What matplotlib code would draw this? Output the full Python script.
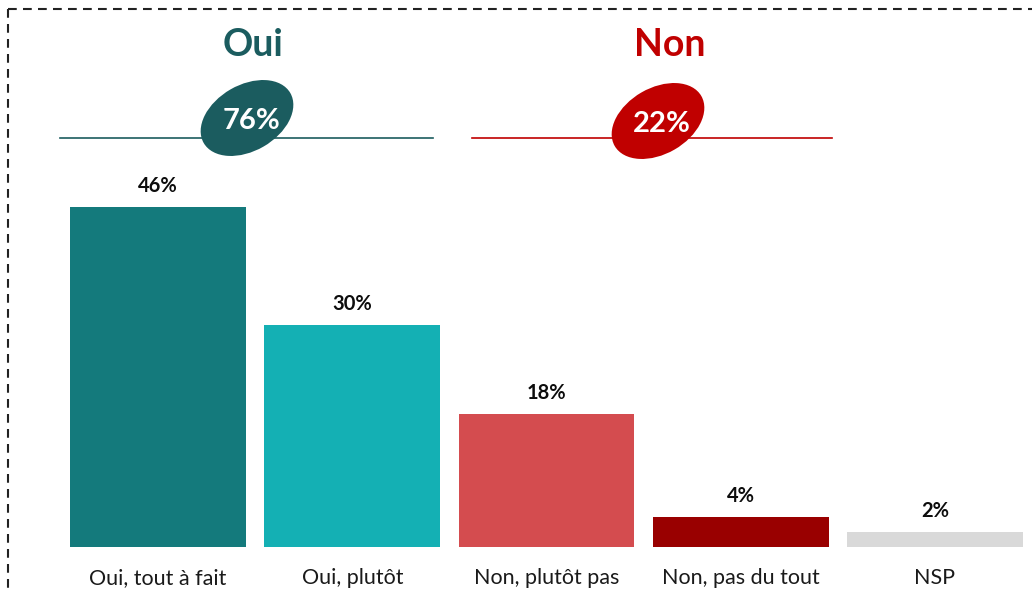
import matplotlib
matplotlib.use("Agg")
import matplotlib.pyplot as plt
from matplotlib.patches import Ellipse
from matplotlib.lines import Line2D
from matplotlib.transforms import Affine2D

categories = ["Oui, tout à fait", "Oui, plutôt", "Non, plutôt pas", "Non, pas du tout", "NSP"]
values = [46, 30, 18, 4, 2]
value_labels = ["46%", "30%", "18%", "4%", "2%"]
bar_colors = ["#147a7c", "#14b0b4", "#d44c4f", "#990000", "#d9d9d9"]

group_names = ["Oui", "Non"]
group_totals = ["76%", "22%"]
group_colors = ["#1b5c5f", "#c00000"]

W, H = 1032, 592
plt.rcParams['font.family'] = ['Lato', 'DejaVu Sans']
fig = plt.figure(figsize=(W / 100, H / 100), dpi=100)

def fx(px):
    return px / W

def fy(py):
    return 1 - py / H

# main axes: baseline at y=547px, bars spaced from x=61 to 1032
ax = fig.add_axes([fx(61), fy(547), fx(1032) - fx(61), fy(9) - fy(547)])
x = list(range(len(categories)))
ax.bar(x, values, width=0.905, color=bar_colors)
ax.set_xlim(-0.5, len(categories) - 0.5)
ax.set_ylim(0, 538 / 7.39)
for spine in ax.spines.values():
    spine.set_visible(False)
ax.set_yticks([])
ax.set_xticks(x)
ax.set_xticklabels(categories, fontsize=15.5, color="#1a1a1a")
ax.tick_params(axis="x", length=0, pad=15)

for xi, v, lab in zip(x, values, value_labels):
    ax.annotate(lab, (xi, v), xytext=(0, 8), textcoords="offset points",
                ha="center", va="bottom", fontsize=14.5, fontweight="bold", color="#0d0d0d")

# group headers (positions in figure pixels)
title_x = [253, 670]
line_spans = [(60, 433), (472, 832)]
ell_centers = [(247, 118), (658, 121)]
pix = Affine2D().scale(1 / W, 1 / H) + fig.transFigure
for name, tot, col, tx, (l0, l1), (ex, ey) in zip(group_names, group_totals, group_colors,
                                                   title_x, line_spans, ell_centers):
    fig.text(fx(tx), fy(45), name, ha="center", va="center", fontsize=27,
             fontweight="bold", color=col)
    fig.add_artist(Line2D([fx(l0), fx(l1)], [fy(137.5), fy(137.5)], color=col, lw=1.2,
                          transform=fig.transFigure))
    e = Ellipse((ex, H - ey), width=100, height=66, angle=30,
                facecolor=col, edgecolor="none", transform=pix)
    fig.add_artist(e)
    fig.text(fx(ex + 4), fy(ey + 3), tot, ha="center", va="center", fontsize=21,
             fontweight="bold", color="white")

# dashed border (top and left visible)
fig.add_artist(Line2D([fx(8), fx(1032)], [fy(9), fy(9)], color="#222222", lw=1.5,
                      dashes=(4.2, 3), transform=fig.transFigure))
fig.add_artist(Line2D([fx(8), fx(8)], [fy(9), fy(592)], color="#222222", lw=1.5,
                      dashes=(4.2, 3), transform=fig.transFigure))

fig.savefig("out.png", dpi=100)
